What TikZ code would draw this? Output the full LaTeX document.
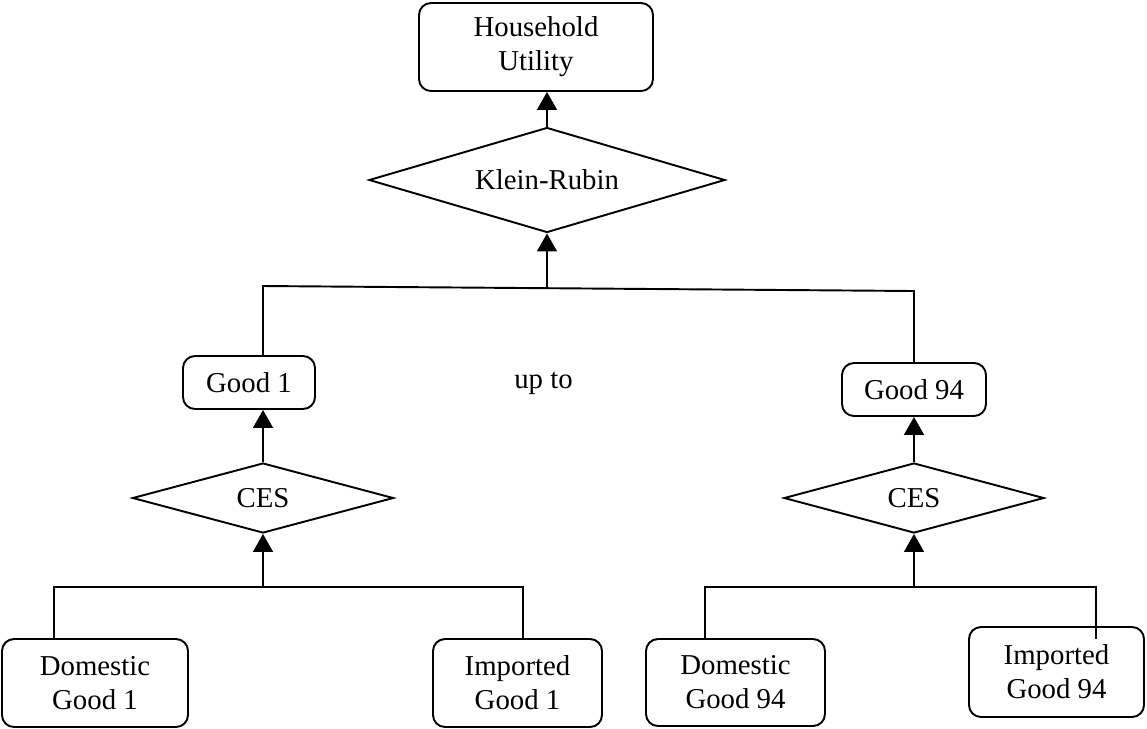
\documentclass[tikz,border=0pt]{standalone}
\usepackage{fontspec}
\setmainfont{Liberation Serif}
\usetikzlibrary{shapes.geometric,arrows.meta}
\newcommand\PX{0.4167pt}
\tikzset{
  lbl/.style={font=\fontsize{12}{14.2}\selectfont, align=center, inner sep=0pt},
  rbox/.style={lbl, draw, line width=0.8pt, rounded corners=5pt},
  dia/.style={lbl, draw, line width=0.8pt, diamond, aspect=3.5},
  conn/.style={line width=0.8pt},
  arr/.style={conn, -{Triangle[length=7.5pt,width=8.3pt]}}
}
\begin{document}
\begin{tikzpicture}[x=\PX, y=-\PX]
\useasboundingbox (0,0) rectangle (1147,728);
% nodes
\node[rbox, minimum width=234*\PX, minimum height=88*\PX] (hu) at (536,47) {Household\\Utility};
\node[dia, minimum width=356*\PX, minimum height=105*\PX] (kr) at (547,180) {Klein-Rubin};
\node[rbox, minimum width=132*\PX, minimum height=53*\PX] (good1) at (249,382.5) {Good 1};
\node[rbox, minimum width=144*\PX, minimum height=53*\PX] (good94) at (914,389.5) {Good 94};
\node[lbl] (upto) at (543.5,383) {up to};
\node[dia, minimum width=261*\PX, minimum height=70*\PX] (ces1) at (263,498) {CES};
\node[dia, minimum width=260*\PX, minimum height=70*\PX] (ces2) at (914,498) {CES};
\node[rbox, minimum width=186*\PX, minimum height=88*\PX] (dom1) at (95,683) {Domestic\\Good 1};
\node[rbox, minimum width=169*\PX, minimum height=88*\PX] (imp1) at (517.5,683) {Imported\\Good 1};
\node[rbox, minimum width=179*\PX, minimum height=87*\PX] (dom94) at (735.5,682.5) {Domestic\\Good 94};
\node[rbox, minimum width=175*\PX, minimum height=90*\PX] (imp94) at (1056.5,672) {Imported\\Good 94};
% junction coordinates
\coordinate (jl) at (263,286);
\coordinate (jr) at (914,291);
\coordinate (j1) at (547,288);
\coordinate (jb1) at (263,587);
\coordinate (jb2) at (914,587);
% connectors
\draw[arr] (kr.north) -- (hu.south -| kr.north);
\draw[conn] (jl |- good1.north) -- (jl) -- (jr) -- (good94.north);
\draw[arr] (j1) -- (kr.south);
\draw[arr] (ces1.north) -- (ces1.north |- good1.south);
\draw[arr] (ces2.north) -- (good94.south);
\draw[conn] ([xshift=-41*\PX]dom1.north) |- (jb1) -| ([xshift=5.5*\PX]imp1.north);
\draw[arr] (jb1) -- (ces1.south);
\draw[conn] ([xshift=-30.5*\PX]dom94.north) |- (jb2) -| ([xshift=39.5*\PX,yshift=-13*\PX]imp94.north);
\draw[arr] (jb2) -- (ces2.south);
\end{tikzpicture}
\end{document}
